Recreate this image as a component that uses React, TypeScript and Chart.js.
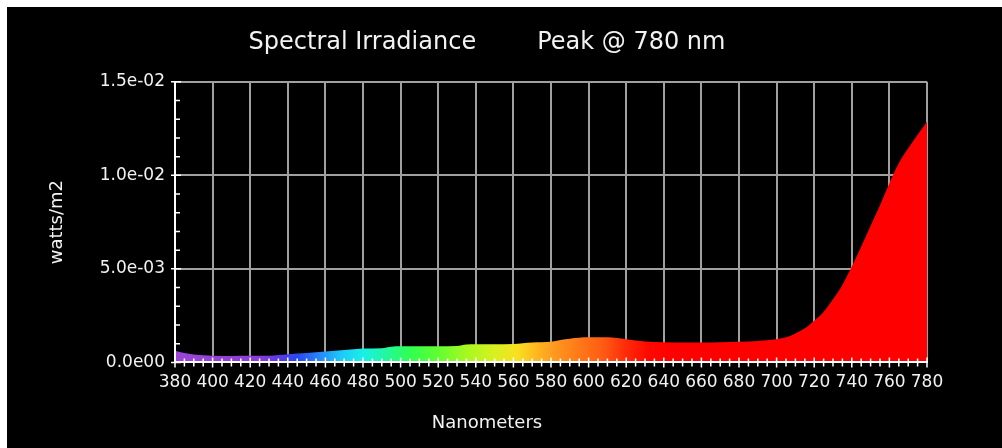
import React, { useEffect, useRef } from 'react';
import { Chart, registerables } from 'chart.js';

Chart.register(...registerables);

// Spectral irradiance samples (nm, W/m²)
const WAVELENGTHS = [
  380, 385, 390, 400, 410, 420, 430, 440, 450, 460, 470, 480, 490, 495, 500, 510, 520, 530, 535, 540,
  550, 560, 570, 580, 585, 590, 600, 610, 620, 630, 640, 650, 660, 670, 680, 690, 700, 705, 710, 715,
  720, 725, 730, 735, 740, 745, 750, 755, 760, 765, 770, 775, 780,
];
const IRRADIANCE = [
  0.00062, 0.0005, 0.00042, 0.00035, 0.00034, 0.00035, 0.00036, 0.00044, 0.0005, 0.00058, 0.00066, 0.00074,
  0.00076, 0.00084, 0.00086, 0.00086, 0.00087, 0.00088, 0.00096, 0.00097, 0.00097, 0.00098, 0.00106, 0.0011,
  0.0012, 0.00127, 0.00134, 0.00134, 0.00124, 0.00112, 0.00108, 0.00107, 0.00107, 0.00108, 0.0011, 0.00114,
  0.00124, 0.00134, 0.00155, 0.00182, 0.00223, 0.0027, 0.00337, 0.00414, 0.00512, 0.00619, 0.0073, 0.0084,
  0.00958, 0.01065, 0.01145, 0.01217, 0.01288,
];

const X_TICKS = [380, 400, 420, 440, 460, 480, 500, 520, 540, 560, 580, 600, 620, 640, 660, 680, 700, 720, 740, 760, 780];
const Y_TICK_VALUES = [0, 0.005, 0.01, 0.015];
const Y_TICK_LABELS = ['0.0e00', '5.0e-03', '1.0e-02', '1.5e-02'];
const X_MINOR_STEP = 5;
const Y_MINOR_STEP = 0.001;

// Colour of the fill along the wavelength axis
const SPECTRUM_NM = [380, 425, 435, 445, 455, 468, 480, 492, 505, 520, 535, 550, 562, 572, 582, 595, 608, 620, 632, 645, 780];
const SPECTRUM_COLORS = [
  '#9b45d6', '#8a3ed8', '#5a3ae6', '#2848f0', '#2a7cf8', '#1cc8f8', '#18f0e8', '#20f8a0', '#30ff50', '#60ff30',
  '#a8f820', '#d8f020', '#f8e020', '#ffb820', '#ff9820', '#ff7818', '#ff5a14', '#ff2a08', '#ff0800', '#ff0000', '#ff0000',
];

const TITLE = 'Spectral Irradiance        Peak @ 780 nm';
const X_TITLE = 'Nanometers';
const Y_TITLE = 'watts/m2';

const FONT = "'DejaVu Sans', sans-serif";

const tickMarks = {
  id: 'tickMarks',
  afterDraw(chart: any) {
    const { ctx, scales } = chart;
    const x = scales.x;
    const y = scales.y;
    const xMin = X_TICKS[0];
    const xMax = X_TICKS[X_TICKS.length - 1];
    const baseY = y.getPixelForValue(Y_TICK_VALUES[0]);
    const axisX = x.getPixelForValue(xMin);
    ctx.save();
    ctx.strokeStyle = '#ffffff';
    ctx.lineWidth = 1.5;
    ctx.beginPath();
    const xCount = Math.round((xMax - xMin) / X_MINOR_STEP);
    for (let k = 0; k <= xCount; k++) {
      const v = xMin + k * X_MINOR_STEP;
      const px = x.getPixelForValue(v);
      const major = X_TICKS.includes(v);
      const h = major ? 5 : 4;
      ctx.moveTo(px, baseY - h);
      ctx.lineTo(px, baseY + h);
    }
    const yMax = Y_TICK_VALUES[Y_TICK_VALUES.length - 1];
    const yCount = Math.round(yMax / Y_MINOR_STEP);
    const majorEvery = Math.round(Y_TICK_VALUES[1] / Y_MINOR_STEP);
    for (let k = 0; k <= yCount; k++) {
      const py = y.getPixelForValue(k * Y_MINOR_STEP);
      if (k % majorEvery === 0) {
        ctx.moveTo(axisX - 4, py);
        ctx.lineTo(axisX + 6, py);
      } else {
        ctx.moveTo(axisX, py);
        ctx.lineTo(axisX + 5, py);
      }
    }
    ctx.stroke();
    ctx.restore();
  },
};

export default function App() {
  const canvasRef = useRef<HTMLCanvasElement | null>(null);

  useEffect(() => {
    const canvas = canvasRef.current;
    if (!canvas) return;
    const chart = new Chart(canvas, {
      type: 'line',
      data: {
        datasets: [
          {
            data: WAVELENGTHS.map((nm, i) => ({ x: nm, y: IRRADIANCE[i] })),
            fill: 'origin',
            borderWidth: 0,
            pointRadius: 0,
            cubicInterpolationMode: 'monotone',
            borderColor: 'rgba(0,0,0,0)',
            backgroundColor: (context: any) => {
              const c = context.chart;
              const xs = c.scales && c.scales.x;
              if (!c.chartArea || !xs) return SPECTRUM_COLORS[0];
              const g = c.ctx.createLinearGradient(xs.left, 0, xs.right, 0);
              const span = xs.right - xs.left;
              SPECTRUM_NM.forEach((nm, i) => {
                const t = (xs.getPixelForValue(nm) - xs.left) / span;
                g.addColorStop(Math.min(1, Math.max(0, t)), SPECTRUM_COLORS[i]);
              });
              return g;
            },
          },
        ],
      },
      options: {
        responsive: false,
        animation: false,
        devicePixelRatio: 1,
        layout: { padding: { left: 40, right: 75, top: 0, bottom: 0 } },
        plugins: {
          legend: { display: false },
          tooltip: { enabled: false },
          title: {
            display: true,
            text: TITLE,
            color: '#f2f2f2',
            font: { family: FONT, size: 24, weight: 'normal', lineHeight: 1.2 },
            padding: { top: 21, bottom: 25 },
          },
          subtitle: {
            display: true,
            position: 'bottom',
            text: X_TITLE,
            color: '#f2f2f2',
            font: { family: FONT, size: 18, weight: 'normal', lineHeight: 1.2 },
            padding: { top: 0, bottom: 14 },
          },
        },
        scales: {
          x: {
            type: 'linear',
            min: X_TICKS[0],
            max: X_TICKS[X_TICKS.length - 1],
            afterBuildTicks: (scale: any) => {
              scale.ticks = X_TICKS.map((v) => ({ value: v }));
            },
            afterFit: (scale: any) => {
              scale.height = 50;
            },
            ticks: {
              autoSkip: false,
              maxRotation: 0,
              minRotation: 0,
              padding: 10,
              color: '#f2f2f2',
              font: { family: FONT, size: 17 },
              callback: (value: any) => String(value),
            },
            grid: { color: '#a0a0a0', lineWidth: 2, drawTicks: false },
            border: { display: true, color: '#ffffff', width: 2, z: 1 },
          },
          y: {
            type: 'linear',
            min: Y_TICK_VALUES[0],
            max: Y_TICK_VALUES[Y_TICK_VALUES.length - 1],
            afterBuildTicks: (scale: any) => {
              scale.ticks = Y_TICK_VALUES.map((v) => ({ value: v }));
            },
            afterFit: (scale: any) => {
              scale.width = 128;
            },
            ticks: {
              padding: 10,
              color: '#f2f2f2',
              font: { family: FONT, size: 17 },
              callback: (_value: any, index: number) => Y_TICK_LABELS[index] ?? '',
            },
            title: {
              display: true,
              text: Y_TITLE,
              color: '#f2f2f2',
              font: { family: FONT, size: 18, weight: 'normal', lineHeight: 1.2 },
              padding: { top: 0, bottom: 0 },
            },
            grid: { color: '#a0a0a0', lineWidth: 2, drawTicks: false },
            border: { display: true, color: '#ffffff', width: 2, z: 1 },
          },
        },
      },
      plugins: [tickMarks],
    } as any);
    return () => chart.destroy();
  }, []);

  return (
    <div style={{ position: 'absolute', left: 7, top: 7, width: 995, height: 441, background: '#000' }}>
      <canvas ref={canvasRef} width={995} height={441} style={{ display: 'block' }} />
    </div>
  );
}
